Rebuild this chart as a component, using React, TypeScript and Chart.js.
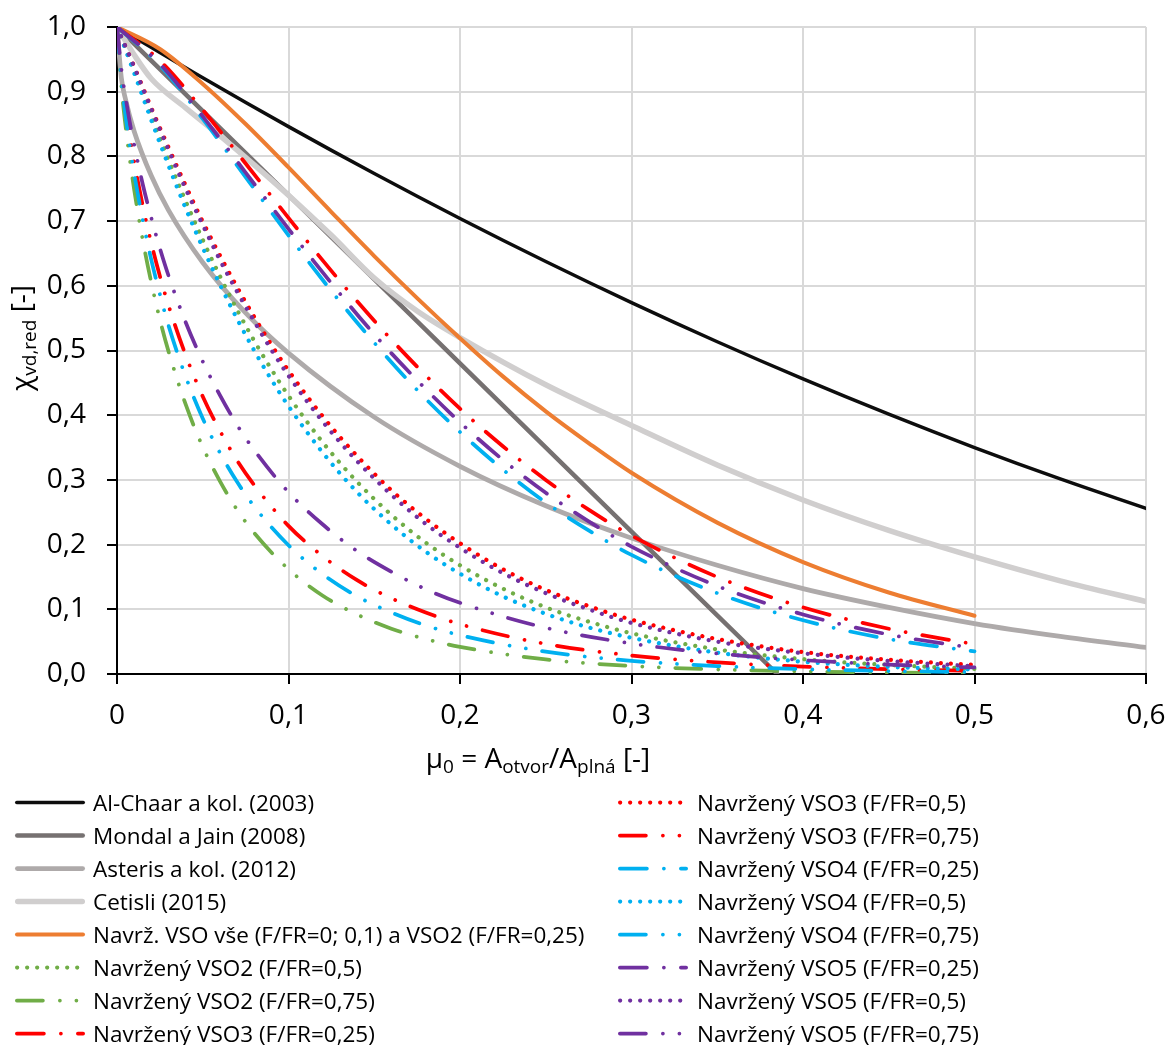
import React, { useEffect, useRef } from "react";
import { Chart, registerables } from "chart.js";

Chart.register(...registerables);

// ---------- data ----------
const X_MAIN = [0, 0.05, 0.1, 0.15, 0.2, 0.25, 0.3, 0.35, 0.4, 0.45, 0.5, 0.55, 0.6];
const AL_CHAAR = [1, 0.9215, 0.846, 0.7735, 0.704, 0.6375, 0.574, 0.5135, 0.456, 0.4015, 0.35, 0.3015, 0.256];

const X_MONDAL = [0, 0.1, 0.2, 0.3, 0.385];
const MONDAL = [1, 0.74, 0.48, 0.22, 0];

const X_ASTERIS = [0, 0.0025, 0.005, 0.01, 0.02, 0.03, 0.05, 0.075, 0.1, 0.15, 0.2, 0.25, 0.3, 0.35, 0.4, 0.45, 0.5, 0.55, 0.6];
const ASTERIS = [1, 0.922, 0.888, 0.839, 0.77, 0.717, 0.636, 0.558, 0.496, 0.397, 0.321, 0.26, 0.21, 0.168, 0.132, 0.103, 0.078, 0.058, 0.041];

const X_CETISLI = [0, 0.01, 0.02, 0.04, 0.06, 0.08, 0.1, 0.125, 0.15, 0.175, 0.2, 0.25, 0.3, 0.35, 0.4, 0.45, 0.5, 0.55, 0.6];
const CETISLI = [1, 0.957, 0.92, 0.875, 0.832, 0.787, 0.74, 0.678, 0.612, 0.561, 0.52, 0.447, 0.384, 0.323, 0.269, 0.222, 0.181, 0.144, 0.112];

const X_A = [0, 0.025, 0.05, 0.075, 0.1, 0.125, 0.15, 0.175, 0.2, 0.225, 0.25, 0.275, 0.3, 0.35, 0.4, 0.45, 0.5];
const VSO_ALL = [1, 0.966, 0.912, 0.85, 0.783, 0.714, 0.646, 0.581, 0.519, 0.46, 0.406, 0.357, 0.311, 0.234, 0.173, 0.126, 0.09];
const VSO3_025 = [1, 0.948, 0.872, 0.789, 0.705, 0.623, 0.546, 0.475, 0.41, 0.352, 0.3, 0.254, 0.214, 0.15, 0.103, 0.07, 0.046];
const VSO4_025 = [1, 0.941, 0.858, 0.768, 0.678, 0.592, 0.512, 0.439, 0.374, 0.316, 0.265, 0.222, 0.184, 0.125, 0.083, 0.054, 0.035];
const VSO5_025 = [1, 0.943, 0.862, 0.775, 0.688, 0.604, 0.525, 0.454, 0.389, 0.331, 0.28, 0.236, 0.197, 0.136, 0.092, 0.061, 0.04];

const X_B = [0, 0.01, 0.02, 0.03, 0.04, 0.05, 0.06, 0.07, 0.08, 0.09, 0.1, 0.12, 0.14, 0.16, 0.18, 0.2, 0.225, 0.25, 0.275, 0.3, 0.35, 0.4, 0.45, 0.5];
const VSO2_05 = [1, 0.932, 0.862, 0.795, 0.731, 0.671, 0.615, 0.563, 0.515, 0.471, 0.43, 0.358, 0.297, 0.246, 0.203, 0.168, 0.132, 0.103, 0.081, 0.063, 0.038, 0.023, 0.014, 0.008];
const VSO3_05 = [1, 0.939, 0.875, 0.814, 0.755, 0.699, 0.647, 0.598, 0.552, 0.509, 0.469, 0.398, 0.337, 0.284, 0.24, 0.202, 0.162, 0.13, 0.105, 0.084, 0.054, 0.034, 0.022, 0.014];
const VSO4_05 = [1, 0.929, 0.856, 0.786, 0.72, 0.659, 0.602, 0.549, 0.5, 0.455, 0.414, 0.342, 0.281, 0.231, 0.189, 0.155, 0.12, 0.093, 0.072, 0.056, 0.033, 0.019, 0.011, 0.007];
const VSO5_05 = [1, 0.938, 0.873, 0.81, 0.75, 0.694, 0.64, 0.591, 0.545, 0.501, 0.461, 0.39, 0.329, 0.277, 0.232, 0.195, 0.156, 0.125, 0.1, 0.079, 0.05, 0.032, 0.02, 0.012];

const X_C = [0, 0.0025, 0.005, 0.0075, 0.01, 0.015, 0.02, 0.025, 0.03, 0.04, 0.05, 0.06, 0.07, 0.08, 0.1, 0.12, 0.14, 0.16, 0.18, 0.2, 0.25, 0.3, 0.35, 0.4, 0.45, 0.5];
const VSO2_075 = [1, 0.909, 0.847, 0.795, 0.749, 0.671, 0.605, 0.548, 0.499, 0.417, 0.351, 0.298, 0.254, 0.218, 0.162, 0.121, 0.092, 0.07, 0.054, 0.042, 0.0225, 0.0124, 0.007, 0.004, 0.0023, 0.0014];
const VSO3_075 = [1, 0.926, 0.874, 0.831, 0.792, 0.724, 0.666, 0.615, 0.57, 0.493, 0.429, 0.376, 0.33, 0.292, 0.229, 0.182, 0.145, 0.117, 0.095, 0.077, 0.0465, 0.0287, 0.018, 0.0115, 0.0074, 0.0048];
const VSO4_075 = [1, 0.919, 0.863, 0.816, 0.774, 0.702, 0.64, 0.587, 0.539, 0.46, 0.395, 0.342, 0.297, 0.259, 0.199, 0.154, 0.12, 0.095, 0.075, 0.06, 0.0346, 0.0204, 0.0122, 0.0074, 0.0046, 0.0029];
const VSO5_075 = [1, 0.936, 0.891, 0.852, 0.818, 0.757, 0.705, 0.658, 0.616, 0.544, 0.483, 0.431, 0.385, 0.346, 0.281, 0.231, 0.19, 0.158, 0.131, 0.11, 0.0714, 0.0472, 0.0316, 0.0214, 0.0146, 0.0101];

const LABELS = [
  "Al-Chaar a kol. (2003)",
  "Mondal a Jain (2008)",
  "Asteris a kol. (2012)",
  "Cetisli (2015)",
  "Navrž. VSO vše (F/FR=0; 0,1) a VSO2 (F/FR=0,25)",
  "Navržený VSO2 (F/FR=0,5)",
  "Navržený VSO2 (F/FR=0,75)",
  "Navržený VSO3 (F/FR=0,25)",
  "Navržený VSO3 (F/FR=0,5)",
  "Navržený VSO3 (F/FR=0,75)",
  "Navržený VSO4 (F/FR=0,25)",
  "Navržený VSO4 (F/FR=0,5)",
  "Navržený VSO4 (F/FR=0,75)",
  "Navržený VSO5 (F/FR=0,25)",
  "Navržený VSO5 (F/FR=0,5)",
  "Navržený VSO5 (F/FR=0,75)",
];

const X_TICKS = [0, 0.1, 0.2, 0.3, 0.4, 0.5, 0.6];
const Y_TICKS = [0, 0.1, 0.2, 0.3, 0.4, 0.5, 0.6, 0.7, 0.8, 0.9, 1.0];

// ---------- styles ----------
const FONT = "'Open Sans', 'Noto Sans', 'DejaVu Sans', sans-serif";
const SOLID: number[] = [];
const DASH_DOT = [27, 17, 0.01, 17];
const DASH_DOT_DOT = [26, 17, 0.01, 16.5, 0.01, 16.5];
const DOTS = [0.01, 10];

const C_GREEN = "#70AD47";
const C_RED = "#FF0000";
const C_BLUE = "#00B0F0";
const C_PURPLE = "#7030A0";

type Series = {
  xs: number[];
  ys: number[];
  color: string;
  width: number;
  dash: number[];
  straight?: boolean;
};

const SERIES: Series[] = [
  { xs: X_MAIN, ys: AL_CHAAR, color: "#0D0D0D", width: 3.5, dash: SOLID },
  { xs: X_MONDAL, ys: MONDAL, color: "#767171", width: 4.5, dash: SOLID, straight: true },
  { xs: X_ASTERIS, ys: ASTERIS, color: "#AEAAAA", width: 4.75, dash: SOLID },
  { xs: X_CETISLI, ys: CETISLI, color: "#D0CECE", width: 5.5, dash: SOLID },
  { xs: X_A, ys: VSO_ALL, color: "#ED7D31", width: 4, dash: SOLID },
  { xs: X_B, ys: VSO2_05, color: C_GREEN, width: 4.25, dash: DOTS },
  { xs: X_C, ys: VSO2_075, color: C_GREEN, width: 3.75, dash: DASH_DOT_DOT },
  { xs: X_A, ys: VSO3_025, color: C_RED, width: 3.75, dash: DASH_DOT },
  { xs: X_B, ys: VSO3_05, color: C_RED, width: 4.25, dash: DOTS },
  { xs: X_C, ys: VSO3_075, color: C_RED, width: 3.75, dash: DASH_DOT_DOT },
  { xs: X_A, ys: VSO4_025, color: C_BLUE, width: 3.75, dash: DASH_DOT },
  { xs: X_B, ys: VSO4_05, color: C_BLUE, width: 4.25, dash: DOTS },
  { xs: X_C, ys: VSO4_075, color: C_BLUE, width: 3.75, dash: DASH_DOT_DOT },
  { xs: X_A, ys: VSO5_025, color: C_PURPLE, width: 3.75, dash: DASH_DOT },
  { xs: X_B, ys: VSO5_05, color: C_PURPLE, width: 4.25, dash: DOTS },
  { xs: X_C, ys: VSO5_075, color: C_PURPLE, width: 3.75, dash: DASH_DOT_DOT },
];

const fmtNum = (v: number) => v.toFixed(1).replace(".", ",");

type Run = { t: string; sub?: boolean };

function drawRuns(ctx: CanvasRenderingContext2D, runs: Run[], cx: number, baseline: number, size: number, subSize: number, subDrop: number) {
  const widths = runs.map((r) => {
    ctx.font = `${r.sub ? subSize : size}px ${FONT}`;
    return ctx.measureText(r.t).width;
  });
  const total = widths.reduce((a, b) => a + b, 0);
  let x = cx - total / 2;
  runs.forEach((r, i) => {
    ctx.font = `${r.sub ? subSize : size}px ${FONT}`;
    ctx.fillText(r.t, x, baseline + (r.sub ? subDrop : 0));
    x += widths[i];
  });
}

const decorPlugin = {
  id: "decor",
  afterDraw(chart: any) {
    const ctx = chart.ctx as CanvasRenderingContext2D;
    ctx.save();
    ctx.fillStyle = "#000";
    ctx.textAlign = "left";
    ctx.textBaseline = "alphabetic";

    // x axis title
    drawRuns(
      ctx,
      [{ t: "μ" }, { t: "0", sub: true }, { t: " = A" }, { t: "otvor", sub: true }, { t: "/A" }, { t: "plná", sub: true }, { t: " [-]" }],
      538,
      768,
      28,
      19,
      5
    );

    // y axis title
    ctx.save();
    ctx.translate(31, 338);
    ctx.rotate(-Math.PI / 2);
    drawRuns(ctx, [{ t: "χ" }, { t: "vd,red", sub: true }, { t: " [-]" }], 0, 0, 28, 19, 5);
    ctx.restore();

    // legend (two columns)
    chart.data.datasets.forEach((ds: any, i: number) => {
      const col = i < 8 ? 0 : 1;
      const row = i % 8;
      const y = 802.5 + row * 33;
      const x0 = col ? 618 : 15;
      const x1 = x0 + 70;
      const w = ds.borderWidth;
      ctx.save();
      ctx.strokeStyle = ds.borderColor;
      ctx.lineWidth = w;
      ctx.lineCap = "round";
      ctx.setLineDash(ds.borderDash || []);
      ctx.beginPath();
      ctx.moveTo(x0 + w / 2, y);
      ctx.lineTo(x1 - w / 2, y);
      ctx.stroke();
      ctx.restore();
      ctx.font = `22.5px ${FONT}`;
      ctx.fillStyle = "#000";
      ctx.fillText(ds.label, col ? 697 : 93, y + 8);
    });
    ctx.restore();
  },
};

export default function App() {
  const ref = useRef<HTMLCanvasElement>(null);

  useEffect(() => {
    const canvas = ref.current;
    if (!canvas) return;
    const chart = new Chart(canvas, {
      type: "line",
      data: {
        datasets: SERIES.map((s, i) => ({
          label: LABELS[i],
          data: s.xs.map((x, k) => ({ x, y: s.ys[k] })),
          borderColor: s.color,
          backgroundColor: s.color,
          borderWidth: s.width,
          borderDash: s.dash,
          borderCapStyle: "round",
          borderJoinStyle: "round",
          pointRadius: 0,
          pointHoverRadius: 0,
          fill: false,
          tension: 0,
          cubicInterpolationMode: s.straight ? "default" : "monotone",
          order: SERIES.length - i,
        })) as any,
      },
      options: {
        animation: false,
        responsive: false,
        devicePixelRatio: 1,
        events: [],
        layout: { padding: { left: 0, top: 27, right: 22, bottom: 311 } },
        plugins: {
          legend: { display: false },
          tooltip: { enabled: false },
          title: { display: false },
        },
        scales: {
          x: {
            type: "linear",
            min: 0,
            max: 0.6,
            afterFit: (scale: any) => {
              scale.height = 60;
              scale.paddingLeft = 0;
              scale.paddingRight = 0;
            },
            afterBuildTicks: (scale: any) => {
              scale.ticks = X_TICKS.map((v) => ({ value: v }));
            },
            ticks: {
              color: "#000",
              font: { family: FONT, size: 28 },
              padding: 15,
              maxRotation: 0,
              autoSkip: false,
              callback: (v: any) => (Number(v) === 0 ? "0" : fmtNum(Number(v))),
            },
            grid: {
              color: "#D9D9D9",
              lineWidth: 2,
              tickColor: "#000",
              tickLength: 10,
              tickWidth: 2,
            },
            border: { color: "#000", width: 2 },
          },
          y: {
            type: "linear",
            min: 0,
            max: 1,
            afterFit: (scale: any) => {
              scale.width = 117;
              scale.paddingTop = 0;
              scale.paddingBottom = 0;
            },
            afterBuildTicks: (scale: any) => {
              scale.ticks = Y_TICKS.map((v) => ({ value: v }));
            },
            ticks: {
              color: "#000",
              font: { family: FONT, size: 28 },
              padding: 21,
              autoSkip: false,
              callback: (v: any) => fmtNum(Number(v)),
            },
            grid: {
              color: "#D9D9D9",
              lineWidth: 2,
              tickColor: "#000",
              tickLength: 10,
              tickWidth: 2,
            },
            border: { color: "#000", width: 2 },
          },
        },
      } as any,
      plugins: [decorPlugin],
    });
    return () => chart.destroy();
  }, []);

  return (
    <div style={{ position: "absolute", left: 0, top: 0, width: 1168, height: 1045, background: "#fff" }}>
      <canvas ref={ref} width={1168} height={1045} style={{ display: "block", width: 1168, height: 1045 }} />
    </div>
  );
}
